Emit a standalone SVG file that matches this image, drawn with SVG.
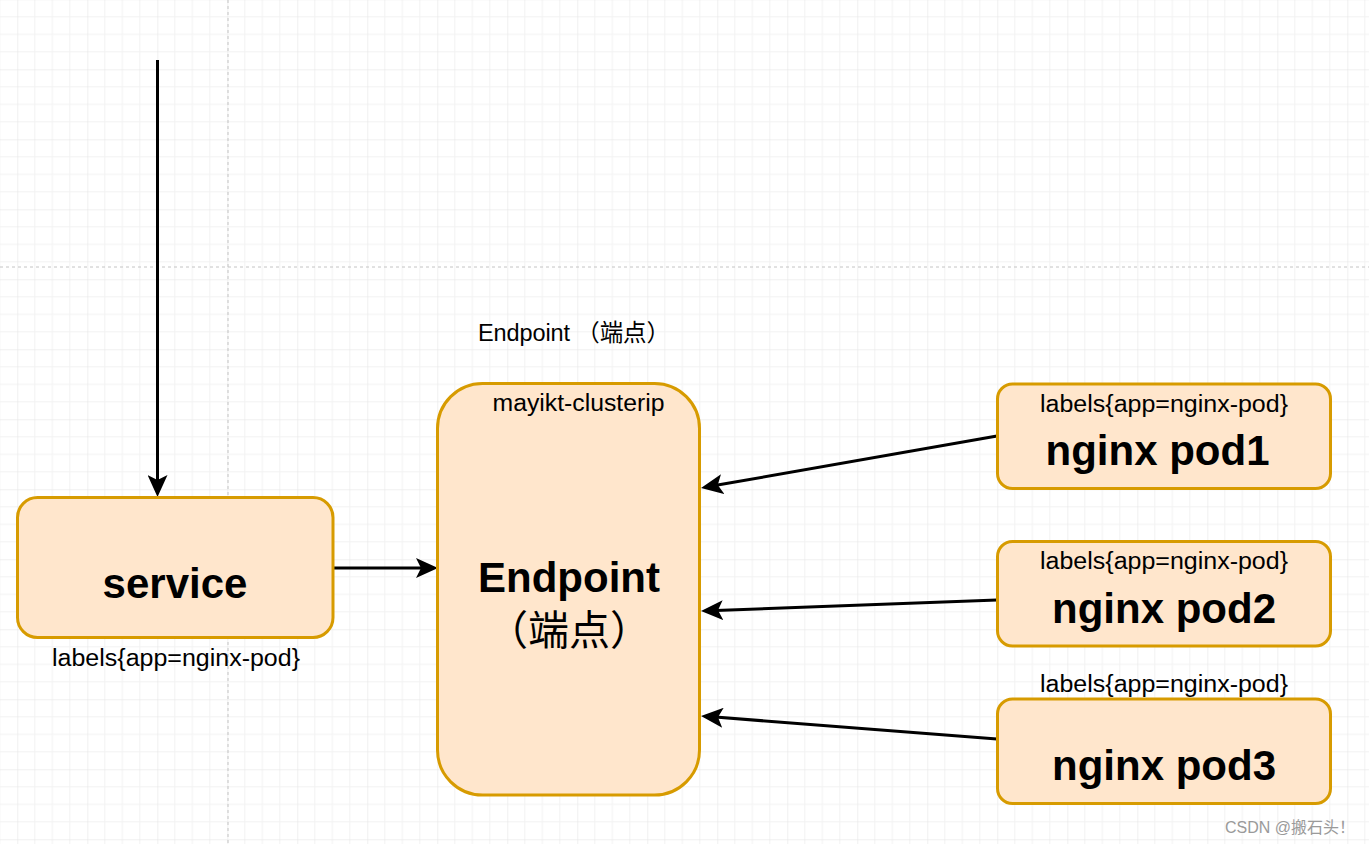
<svg xmlns="http://www.w3.org/2000/svg" width="1369" height="844" viewBox="0 0 1369 844">
<style>
.node{fill:#ffe6cc;stroke:#d79b00;stroke-width:3}
.edge{fill:none;stroke:#000;stroke-width:3}
.t{font-family:"Liberation Sans",Arial,"Noto Sans CJK SC",sans-serif;fill:#000}
.small{font-size:23.5px}
.big{font-size:42px;font-weight:bold}
.cjk{font-family:"Liberation Serif","Noto Sans CJK SC",serif;font-size:41px}
</style>
<defs>
<pattern id="grid" patternUnits="userSpaceOnUse" x="17.3" y="-0.7" width="70" height="70">
<path d="M17.5,0V70M35,0V70M52.5,0V70M0,17.5H70M0,35H70M0,52.5H70" stroke="#f2f2f2" stroke-width="1" fill="none"/>
<path d="M0,0V70M0,0H70" stroke="#e2e2e2" stroke-width="1" fill="none"/>
</pattern>
<marker id="arr" markerUnits="userSpaceOnUse" markerWidth="22" markerHeight="20" viewBox="0 0 22 20" refX="14" refY="10" orient="auto">
<path d="M0,0 L22,10 L0,20 L5,10 Z" fill="#000"/>
</marker>
</defs>
<rect width="1369" height="844" fill="#fff"/>
<rect width="1369" height="844" fill="url(#grid)"/>
<path d="M228,0V844M0,267H1369" stroke="#c4c4c4" stroke-width="1" stroke-dasharray="3,3" fill="none"/>

<g id="edges">
<path class="edge" d="M157.5,60V489" marker-end="url(#arr)"/>
<path class="edge" d="M333,568H430" marker-end="url(#arr)"/>
<path class="edge" d="M997,436L708.9,486.6" marker-end="url(#arr)"/>
<path class="edge" d="M997,600L709,610.7" marker-end="url(#arr)"/>
<path class="edge" d="M997,739L709,716.6" marker-end="url(#arr)"/>
</g>

<g id="service">
<rect class="node" x="17.5" y="497.5" width="315.5" height="140" rx="20"/>
<text class="t big" x="175" y="598" text-anchor="middle">service</text>
<text class="t small" x="52" y="666" textLength="248" lengthAdjust="spacingAndGlyphs">labels{app=nginx-pod}</text>
</g>

<g id="endpoint">
<text class="t small" x="478" y="341" textLength="192" lengthAdjust="spacing">Endpoint （端点）</text>
<rect class="node" x="437.5" y="383.5" width="262" height="411.5" rx="45"/>
<text class="t small" x="492.5" y="411" textLength="172" lengthAdjust="spacingAndGlyphs">mayikt-clusterip</text>
<text class="t big" x="569" y="592" text-anchor="middle">Endpoint</text>
<text class="cjk" x="569" y="645" text-anchor="middle">（端点）</text>
</g>

<g id="pod1">
<rect class="node" x="997.5" y="384" width="333" height="104.5" rx="15"/>
<text class="t small" x="1040" y="412" textLength="248" lengthAdjust="spacingAndGlyphs">labels{app=nginx-pod}</text>
<text class="t big" x="1157.5" y="465" text-anchor="middle">nginx pod1</text>
</g>

<g id="pod2">
<rect class="node" x="997.5" y="541.5" width="333" height="104.5" rx="15"/>
<text class="t small" x="1040" y="569" textLength="248" lengthAdjust="spacingAndGlyphs">labels{app=nginx-pod}</text>
<text class="t big" x="1164" y="623" text-anchor="middle">nginx pod2</text>
</g>

<g id="pod3">
<text class="t small" x="1040" y="692" textLength="248" lengthAdjust="spacingAndGlyphs">labels{app=nginx-pod}</text>
<rect class="node" x="997.5" y="699" width="333" height="104.5" rx="15"/>
<text class="t big" x="1164" y="780" text-anchor="middle">nginx pod3</text>
</g>

<text x="1225" y="833" textLength="130" lengthAdjust="spacing" font-family="'Liberation Sans','Noto Sans CJK SC',sans-serif" font-size="16" fill="#9a9a9a">CSDN @搬石头！</text>
</svg>
